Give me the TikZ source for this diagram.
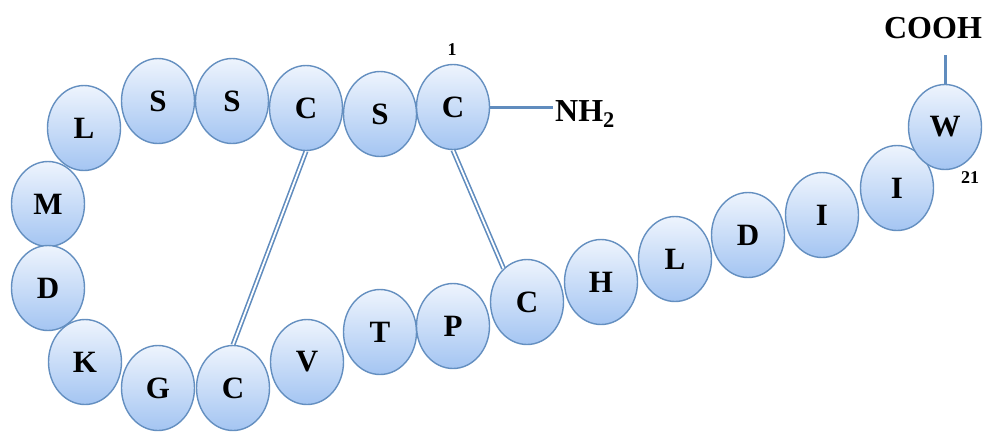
\documentclass[tikz,border=0pt]{standalone}
\usepackage{fontspec}
\setmainfont{Liberation Serif}
\usetikzlibrary{shapes.geometric}
\definecolor{topc}{RGB}{238,244,253}
\definecolor{botc}{RGB}{164,197,242}
\definecolor{edgec}{RGB}{100,143,192}
\definecolor{bondc}{RGB}{96,140,190}
\tikzset{
  aa/.style={ellipse, draw=edgec, line width=1.4pt, top color=topc, bottom color=botc,
    minimum width=73pt, minimum height=85pt, inner sep=0pt,
    font=\fontsize{31}{31}\selectfont\bfseries},
  lbl/.style={font=\fontsize{32}{32}\selectfont\bfseries, inner sep=2pt},
  num/.style={font=\fontsize{18}{18}\selectfont\bfseries, inner sep=1pt},
  bond/.style={draw=bondc, double=white, double distance=1.8pt, line width=1.6pt},
  tail/.style={draw=bondc, line width=3pt}
}
\begin{document}
\begin{tikzpicture}[x=1pt,y=-1pt]
\useasboundingbox (0,0) rectangle (990,432);
% residues
\node[aa] (r1)  at (453,107) {C};
\node[aa] (r2)  at (380,114) {S};
\node[aa] (r3)  at (306,108) {C};
\node[aa] (r4)  at (232,101) {S};
\node[aa] (r5)  at (158,101) {S};
\node[aa] (r6)  at (84,128) {L};
\node[aa] (r7)  at (48,204) {M};
\node[aa] (r8)  at (48,288) {D};
\node[aa] (r9)  at (85,362) {K};
\node[aa] (r10) at (158,388) {G};
\node[aa] (r11) at (233,388) {C};
\node[aa] (r12) at (307,362) {V};
\node[aa] (r13) at (380,332) {T};
\node[aa] (r14) at (453,326) {P};
\node[aa] (r15) at (527,302) {C};
\node[aa] (r16) at (601,282) {H};
\node[aa] (r17) at (675,259) {L};
\node[aa] (r18) at (748,235) {D};
\node[aa] (r19) at (822,215) {I};
\node[aa] (r20) at (897,188) {I};
\node[aa] (r21) at (945,127) {W};
% disulfide bonds
\draw[bond] (r3.south) -- (r11.north);
\draw[bond] (r1.south) -- (r15.125);
% termini
\node[lbl] (nh) at (585,114) {NH\textsubscript{2}};
\draw[tail] (r1.east) -- (r1.east -| nh.west);
\node[lbl] (cooh) at (933,28) {COOH};
\coordinate (cend) at (945,55);
\draw[tail] (r21.north) -- (cend);
\node[num] (n1) at (452,50) {1};
\node[num] (n21) at (970,178) {21};
\end{tikzpicture}
\end{document}
